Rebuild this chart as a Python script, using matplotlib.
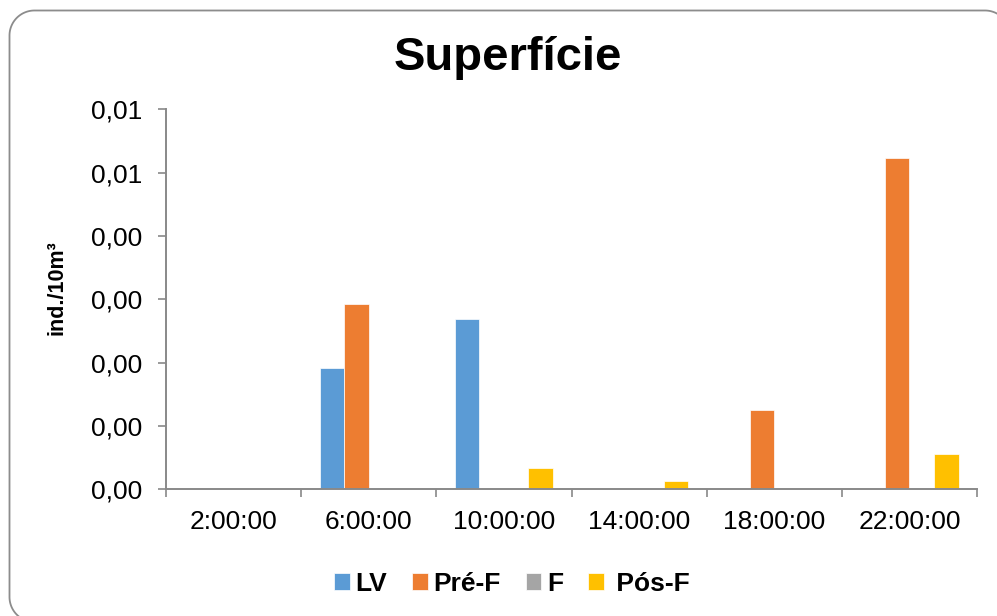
import matplotlib
matplotlib.use('Agg')
import matplotlib.pyplot as plt
from matplotlib.ticker import FixedLocator, FuncFormatter
import numpy as np

# Excel 2013 palette
C_LV = '#5B9BD5'; C_PRE = '#ED7D31'; C_F = '#A5A5A5'; C_POS = '#FFC000'
AXIS = '#898989'; BORDER = '#8c8c8c'

plt.rcParams['font.family'] = ['Liberation Sans', 'DejaVu Sans']

horas = ['2:00:00', '6:00:00', '10:00:00', '14:00:00', '18:00:00', '22:00:00']
lv = [0, 0.00192, 0.00269, 0, 0, 0]
pre_f = [0, 0.00293, 0, 0, 0.00126, 0.00523]
f = [0, 0, 0, 0, 0, 0]
pos_f = [0, 0, 0.00034, 0.00013, 0, 0.00055]
y_ticks = [i / 1000 for i in range(7)]

series = [('LV', lv, C_LV), ('Pré-F', pre_f, C_PRE),
          ('F', f, C_F), (' Pós-F', pos_f, C_POS)]

W, H = 997, 616
fig = plt.figure(figsize=(W / 100, H / 100), dpi=100)
fig.patch.set_facecolor('white')

# moldura arredondada: só o canto superior esquerdo/direito e o inferior esquerdo
# ficam dentro da imagem
x0, x1 = 9.5, 1010.0
y0, y1 = 10.5, 622.0
r = 25.0
t = np.linspace(0, np.pi / 2, 30)
px, py = [], []
# inferior esquerdo -> superior esquerdo -> superior direito
px += list(x0 + r - r * np.cos(t)); py += list(y1 - r + r * np.sin(t))
px = px[::-1]; py = py[::-1]
px += list(x0 + r - r * np.cos(t)); py += list(y0 + r - r * np.sin(t))
px += list(x1 - r + r * np.sin(t)); py += list(y0 + r - r * np.cos(t))
px = np.array(px) / W
py = 1 - np.array(py) / H
fig.add_artist(plt.Line2D(px, py, transform=fig.transFigure, color=BORDER,
                          linewidth=1.3, clip_on=False))

ax = fig.add_axes([166 / W, 1 - 489.3 / H, (977 - 166) / W, (489.3 - 109.3) / H])

x = np.arange(len(horas))
bw = 1 / 5.5
for i, (nome, vals, cor) in enumerate(series):
    ax.bar(x + (i - 1.5) * bw, vals, width=bw, color=cor, label=nome,
           edgecolor='white', linewidth=0.5)

ax.set_xlim(-0.5, len(horas) - 0.5)
ax.set_ylim(0, 0.006)
ax.yaxis.set_major_locator(FixedLocator(y_ticks))
ax.yaxis.set_major_formatter(FuncFormatter(lambda v, p: f'{v:.2f}'.replace('.', ',')))
ax.tick_params(axis='y', direction='out', length=5.8, width=1.2, color=AXIS,
               labelsize=19, pad=11)

ax.set_xticks(x)
ax.set_xticklabels(horas)
ax.set_xticks(np.arange(-0.5, len(horas)), minor=True)
ax.tick_params(axis='x', which='major', length=0, labelsize=19, pad=15)
ax.tick_params(axis='x', which='minor', direction='out', length=5.8, width=1.2, color=AXIS)

for s in ['top', 'right']:
    ax.spines[s].set_visible(False)
for s in ['bottom', 'left']:
    ax.spines[s].set_color(AXIS)
    ax.spines[s].set_linewidth(1.4)

fig.text(508 / W, 1 - 58 / H, 'Superfície', ha='center', va='center',
         fontsize=34, fontweight='bold')
fig.text(57 / W, 1 - 287.5 / H, 'ind./10m³', ha='center', va='center',
         rotation=90, fontsize=15.5, fontweight='bold')

leg = fig.legend(loc='center', bbox_to_anchor=(512 / W, 1 - 584 / H), ncol=4,
                 frameon=False, handlelength=0.6, handleheight=0.6,
                 handletextpad=0.2, columnspacing=0.95,
                 prop={'size': 19, 'weight': 'bold'})

fig.savefig('out.png', dpi=100, facecolor='white')
